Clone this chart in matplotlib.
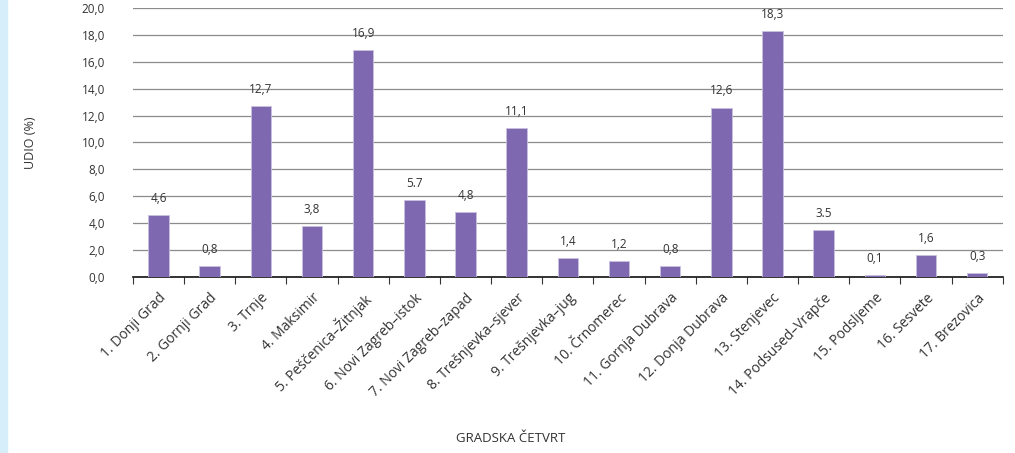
import matplotlib.pyplot as plt
import numpy as np
from matplotlib.patches import Rectangle

plt.rcParams['font.family'] = ['Open Sans', 'DejaVu Sans']

districts = ["1. Donji Grad", "2. Gornji Grad", "3. Trnje", "4. Maksimir",
             "5. Pe\u0161\u010denica\u2013\u017ditnjak", "6. Novi Zagreb\u2013istok",
             "7. Novi Zagreb\u2013zapad", "8. Tre\u0161njevka\u2013sjever",
             "9. Tre\u0161njevka\u2013jug", "10. \u010crnomerec", "11. Gornja Dubrava",
             "12. Donja Dubrava", "13. Stenjevec", "14. Podsused\u2013Vrap\u010de",
             "15. Podsljeme", "16. Sesvete", "17. Brezovica"]
shares = [4.6, 0.8, 12.7, 3.8, 16.9, 5.7, 4.8, 11.1, 1.4, 1.2, 0.8, 12.6, 18.3, 3.5, 0.1, 1.6, 0.3]
value_labels = ["4,6", "0,8", "12,7", "3,8", "16,9", "5.7", "4,8", "11,1", "1,4", "1,2", "0,8",
                "12,6", "18,3", "3.5", "0,1", "1,6", "0,3"]

fig = plt.figure(figsize=(10.15, 4.53), dpi=100)
fig.patches.append(Rectangle((0, 0), 7 / 1015, 1, transform=fig.transFigure,
                             color='#d6eefa', zorder=0))
ax = fig.add_axes([0.131, 0.389, 0.857, 0.593])

x = np.arange(len(shares))
ax.bar(x, shares, width=0.4, color='#7e68b0', edgecolor='#c9c0e0', linewidth=0.6, zorder=3)
for xi, v, lab in zip(x, shares, value_labels):
    ax.text(xi, v + 0.75, lab, ha='center', va='bottom', fontsize=8.5, color='#333333')

ax.set_xlim(-0.5, len(shares) - 0.5)
ax.set_ylim(0, 20)
ax.set_yticks(np.arange(0, 20.1, 2))
ax.set_yticklabels([f"{v:.1f}".replace('.', ',') for v in np.arange(0, 20.1, 2)],
                   fontsize=8.5, color='#333333')
ax.yaxis.grid(True, color='#8c8c8c', linewidth=0.9)
ax.set_axisbelow(True)
ax.tick_params(axis='y', length=0, pad=20)

ax.set_xticks(x)
ax.set_xticklabels(districts, rotation=45, ha='right', rotation_mode='anchor',
                   fontsize=10, color='#333333')
ax.tick_params(axis='x', length=0, pad=10)
ax.set_xticks(np.arange(-0.5, len(shares), 1), minor=True)
ax.tick_params(axis='x', which='minor', length=5, color='#333333', width=0.8)

for s in ['top', 'right', 'left']:
    ax.spines[s].set_visible(False)
ax.spines['bottom'].set_color('#111111')
ax.spines['bottom'].set_linewidth(1.2)

ax.set_ylabel("UDIO (%)", fontsize=9, color='#333333')
ax.yaxis.set_label_coords(-0.11, 0.5)
fig.text(0.503, 0.025, "GRADSKA \u010cETVRT", ha='center', fontsize=9.5, color='#333333')

plt.savefig('out.png', dpi=100)
